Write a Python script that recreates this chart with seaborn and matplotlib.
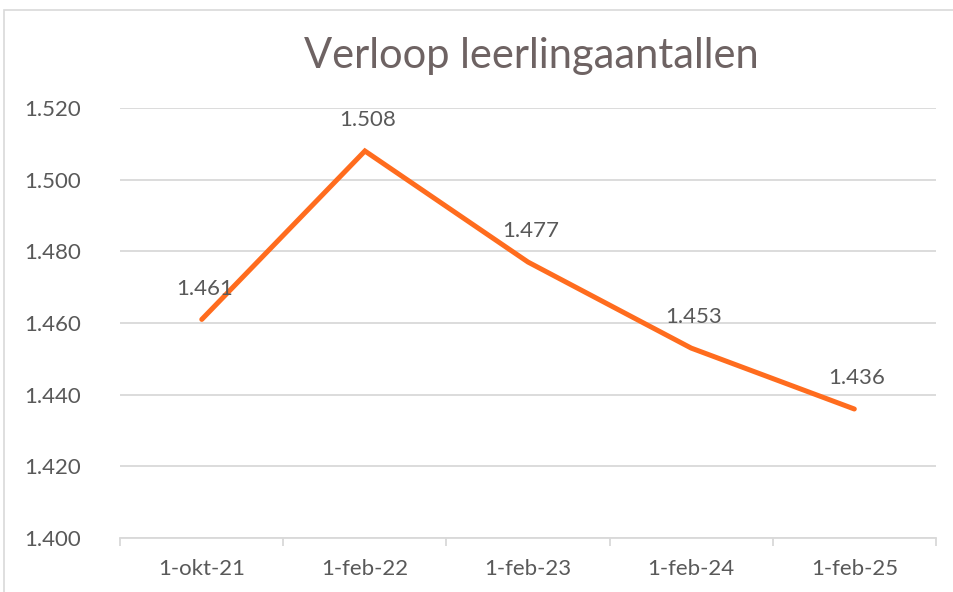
import pandas as pd
import seaborn as sns
import matplotlib.pyplot as plt
from matplotlib.patches import Rectangle
from matplotlib.ticker import FuncFormatter, FixedLocator

# data
dates = ['1-okt-21', '1-feb-22', '1-feb-23', '1-feb-24', '1-feb-25']
leerlingen = [1461, 1508, 1477, 1453, 1436]
y_ticks = [1400, 1420, 1440, 1460, 1480, 1500, 1520]

df = pd.DataFrame({'datum': dates, 'aantal': leerlingen})

sns.set_theme(style='white')
plt.rcParams['font.family'] = ['Lato', 'DejaVu Sans']
text_col = '#595959'

fig = plt.figure(figsize=(9.54, 5.92), dpi=100)
ax = fig.add_axes([0.126, 0.0912, 0.855, 0.7264])

sns.lineplot(data=df, x='datum', y='aantal', ax=ax, color='#FF6C1E',
             linewidth=3.6, solid_capstyle='round', solid_joinstyle='miter')

for i, v in enumerate(leerlingen):
    ax.annotate(f'{v:,}'.replace(',', '.'), (i, v), xytext=(2, 15),
                textcoords='offset points', ha='center', va='bottom',
                fontsize=16, color=text_col)

ax.set_ylim(y_ticks[0], y_ticks[-1])
ax.set_yticks(y_ticks)
ax.yaxis.set_major_formatter(FuncFormatter(lambda v, p: f'{int(v):,}'.replace(',', '.')))
ax.set_xlim(-0.5, len(dates) - 0.5)
ax.grid(axis='y', color='#D9D9D9', linewidth=1.3)
ax.set_axisbelow(True)

for s in ['top', 'right', 'left']:
    ax.spines[s].set_visible(False)
ax.spines['bottom'].set_color('#D9D9D9')
ax.spines['bottom'].set_linewidth(1.3)

# tick marks between categories, labels at centres
ax.xaxis.set_minor_locator(FixedLocator([i - 0.5 for i in range(len(dates) + 1)]))
ax.tick_params(axis='x', which='minor', length=6, width=1.3, color='#D9D9D9',
               direction='out', bottom=True)
ax.tick_params(axis='x', which='major', length=0, pad=15, labelsize=16,
               labelcolor=text_col)
ax.tick_params(axis='y', length=0, pad=28, labelsize=16, labelcolor=text_col)
ax.set_xlabel('')
ax.set_ylabel('')

fig.text(0.557, 0.906, 'Verloop leerlingaantallen', ha='center', va='center',
         fontsize=30, color='#6E6363')

# chart border
fig.patches.append(Rectangle((4.5 / 954, -0.1), 1.2, 1 - 9.5 / 592 + 0.1,
                             transform=fig.transFigure, fill=False,
                             edgecolor='#D9D9D9', linewidth=1.2))

fig.savefig('out.png', dpi=100)
